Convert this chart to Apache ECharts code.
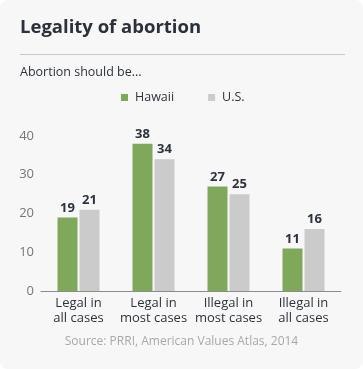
<!DOCTYPE html>
<html><head><meta charset="utf-8">
<script src="https://cdn.jsdelivr.net/npm/echarts@6/dist/echarts.min.js"></script>
<style>
html,body{margin:0;padding:0;background:#ffffff;}
#c{width:363px;height:369px;background:#f7f7f7;border-radius:8px;overflow:hidden;}
</style></head><body>
<div id="c"></div>
<script>
const categories = ['Legal in\nall cases', 'Legal in\nmost cases', 'Illegal in\nmost cases', 'Illegal in\nall cases'];
const hawaii = [19, 38, 27, 11];
const us = [21, 34, 25, 16];
const seriesNames = ['Hawaii', 'U.S.'];
const titleText = 'Legality of abortion';
const subtitleText = 'Abortion should be...';
const sourceText = 'Source: PRRI, American Values Atlas, 2014';

const font = '"Open Sans", "Noto Sans", sans-serif';
const chart = echarts.init(document.getElementById('c'), null, {renderer: 'canvas'});
chart.setOption({
  backgroundColor: 'transparent',
  textStyle: {fontFamily: font},
  animation: false,
  title: [
    {text: titleText, left: 20, top: 18, padding: 0, textStyle: {fontSize: 18.5, fontWeight: 'bold', color: '#2b313a', fontFamily: font}},
    {text: subtitleText, left: 20, top: 66, padding: 0, textStyle: {fontSize: 12.5, fontWeight: 'normal', color: '#2d333c', fontFamily: font}},
    {text: sourceText, left: 'center', top: 336, padding: 0, textStyle: {fontSize: 12, fontWeight: 'normal', color: '#a8a8a8', fontFamily: font}}
  ],
  graphic: [
    {type: 'line', shape: {x1: 20, y1: 54.5, x2: 345, y2: 54.5}, style: {stroke: '#c8c8c8', lineWidth: 1}}
  ],
  legend: {
    top: 91, left: 121, padding: 0,
    itemWidth: 7, itemHeight: 7, itemGap: 34,
    icon: 'rect',
    textStyle: {fontSize: 12.5, color: '#2d333c', fontFamily: font, padding: [0, 0, 0, 2]},
    data: seriesNames
  },
  grid: {left: 41, right: 22, top: 136, bottom: 78, containLabel: false},
  xAxis: {
    type: 'category',
    data: categories,
    axisLine: {lineStyle: {color: '#8c8c8c', width: 1}},
    axisTick: {show: false},
    axisLabel: {fontSize: 13, color: '#2d333c', lineHeight: 15, margin: 5, interval: 0, fontFamily: font}
  },
  yAxis: {
    type: 'value', min: 0, max: 40, interval: 10,
    splitLine: {show: false},
    axisLine: {show: false},
    axisTick: {show: false},
    axisLabel: {fontSize: 13, color: '#777', margin: 7, fontFamily: font}
  },
  series: [
    {name: seriesNames[0], type: 'bar', data: hawaii, barWidth: 20, barGap: '10%',
     itemStyle: {color: '#80a85a'},
     label: {show: true, position: 'top', distance: 3, fontSize: 13, fontWeight: 'bold', color: '#2d333c', fontFamily: font}},
    {name: seriesNames[1], type: 'bar', data: us, barWidth: 20,
     itemStyle: {color: '#cbcbcb'},
     label: {show: true, position: 'top', distance: 3, fontSize: 13, fontWeight: 'bold', color: '#2d333c', fontFamily: font}}
  ]
});
</script>
</body></html>
